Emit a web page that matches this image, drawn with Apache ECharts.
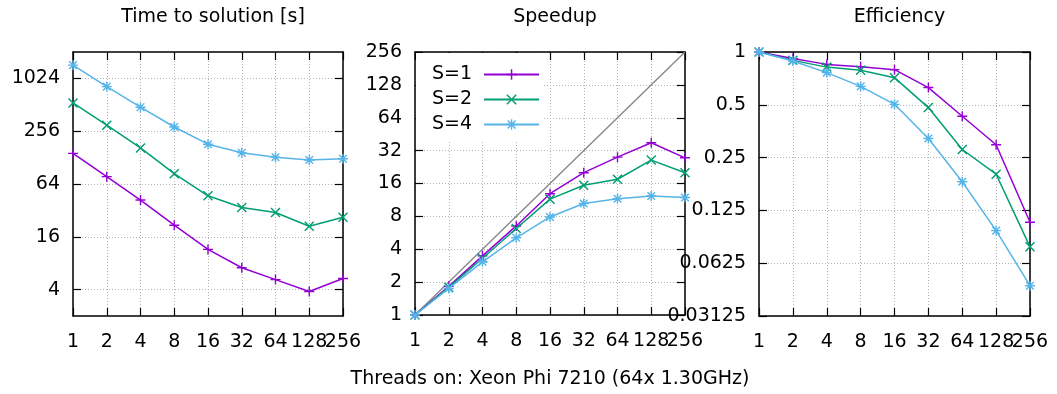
<!DOCTYPE html>
<html><head><meta charset="utf-8">
<script src="https://cdn.jsdelivr.net/npm/echarts@6/dist/echarts.min.js"></script>
<style>html,body{margin:0;padding:0;background:#fff}#c{width:1057px;height:394px}</style>
</head><body><div id="c"></div>
<script>
// ---- data ----
const threads = [1, 2, 4, 8, 16, 32, 64, 128, 256];
const seriesNames = ['S=1', 'S=2', 'S=4'];
const timeS1 = [143, 77.6, 42, 21.7, 11.5, 7.1, 5.2, 3.8, 5.35];
const timeS2 = [538, 300, 165, 84, 47, 34.6, 30.3, 21.1, 26.7];
const timeS4 = [1450, 826, 481, 286, 182, 145, 129, 120, 124];
const speedS1 = [1, 1.83, 3.48, 6.54, 12.9, 20.1, 27.9, 37.8, 27.5];
const speedS2 = [1, 1.79, 3.31, 6.19, 11.5, 15.4, 17.5, 26.2, 20.1];
const speedS4 = [1, 1.75, 3.07, 5.09, 7.9, 10.5, 11.6, 12.3, 11.9];
const effS1 = [1, 0.917, 0.85, 0.825, 0.793, 0.627, 0.43, 0.296, 0.107];
const effS2 = [1, 0.896, 0.82, 0.786, 0.714, 0.482, 0.278, 0.201, 0.0775];
const effS4 = [1, 0.889, 0.763, 0.637, 0.503, 0.321, 0.182, 0.0958, 0.0465];
const idealSpeedup = [1, 256];
const xTicks = [1, 2, 4, 8, 16, 32, 64, 128, 256];
const timeTicks = [4, 16, 64, 256, 1024];
const speedTicks = [1, 2, 4, 8, 16, 32, 64, 128, 256];
const effTicks = [0.03125, 0.0625, 0.125, 0.25, 0.5, 1];
const titles = ['Time to solution [s]', 'Speedup', 'Efficiency'];
const xName = 'Threads on: Xeon Phi 7210 (64x 1.30GHz)';

// ---- style ----
const colors = ['#9400d3', '#009e73', '#56b4e9'];
const FONT = 'DejaVu Sans';
const FS = 19;
function seg(x1, y1, x2, y2, w) {
  const dx = x2 - x1, dy = y2 - y1, L = Math.hypot(dx, dy);
  const nx = -dy / L * w / 2, ny = dx / L * w / 2;
  return 'M' + (x1 + nx) + ',' + (y1 + ny) + 'L' + (x2 + nx) + ',' + (y2 + ny) +
    'L' + (x2 - nx) + ',' + (y2 - ny) + 'L' + (x1 - nx) + ',' + (y1 - ny) + 'Z';
}
const W = 1.4;
const plusPath = seg(5, 0, 5, 10, W) + seg(0, 5, 10, 5, W);
const crossPath = seg(0.6, 0.6, 9.4, 9.4, W) + seg(0.6, 9.4, 9.4, 0.6, W);
const starPath = plusPath + seg(1.2, 1.2, 8.8, 8.8, W) + seg(1.2, 8.8, 8.8, 1.2, W);
const symbols = ['path://' + plusPath, 'path://' + crossPath, 'path://' + starPath];

const grids = [
  { left: 73, top: 52, width: 270, height: 264 },
  { left: 415, top: 52, width: 270, height: 264 },
  { left: 759, top: 52, width: 271, height: 264 }
];
const yRanges = [[2, 2048], [1, 256], [0.03125, 1]];
const yTickSets = [timeTicks, speedTicks, effTicks];
const labelFmt = v => String(+(+v).toPrecision(6));
const gridLine = { show: true, lineStyle: { color: '#b4b4b4', width: 1, type: [1, 2] } };
const axLine = { show: true, onZero: false, lineStyle: { color: '#000', width: 1.5 } };
const tickIn = { show: true, inside: true, length: 8, lineStyle: { color: '#000', width: 1.2 } };
const lbl = { color: '#000', fontFamily: FONT, fontSize: FS };
const xLabelMain = xTicks.slice(0, -1);
const xLabelLast = xTicks.slice(-1);

const xAxes = [], yAxes = [], series = [], titleArr = [];
const xAxisIdx = [];
for (let g = 0; g < 3; g++) {
  xAxisIdx.push(xAxes.length);
  xAxes.push({
    type: 'log', logBase: 2, gridIndex: g, min: 1, max: 256, position: 'bottom',
    axisLine: axLine, axisTick: Object.assign({ customValues: xTicks }, tickIn),
    axisLabel: Object.assign({ customValues: xLabelMain, margin: 17, formatter: labelFmt, hideOverlap: false,
      showMinLabel: true, showMaxLabel: true }, lbl),
    splitLine: gridLine,
    name: g === 1 ? xName : '', nameLocation: 'middle', nameGap: 55,
    nameTextStyle: lbl
  });
  // extra bottom axis carrying only the last label (so overlapping labels are both kept)
  xAxes.push({
    type: 'log', logBase: 2, gridIndex: g, min: 1, max: 256, position: 'bottom', offset: 0,
    axisLine: { show: false }, axisTick: { show: false }, splitLine: { show: false },
    axisLabel: Object.assign({ customValues: xLabelLast, margin: 17, formatter: labelFmt,
      showMinLabel: true, showMaxLabel: true }, lbl)
  });
  xAxes.push({
    type: 'log', logBase: 2, gridIndex: g, min: 1, max: 256, position: 'top',
    axisLine: axLine, axisTick: Object.assign({ customValues: xTicks }, tickIn),
    axisLabel: { show: false }, splitLine: { show: false }
  });
  yAxes.push({
    type: 'log', logBase: 2, gridIndex: g, min: yRanges[g][0], max: yRanges[g][1], position: 'left',
    axisLine: axLine, axisTick: Object.assign({ customValues: yTickSets[g] }, tickIn),
    axisLabel: Object.assign({ customValues: yTickSets[g], margin: 13, formatter: labelFmt, hideOverlap: false, showMinLabel: true, showMaxLabel: true }, lbl),
    splitLine: gridLine
  });
  yAxes.push({
    type: 'log', logBase: 2, gridIndex: g, min: yRanges[g][0], max: yRanges[g][1], position: 'right',
    axisLine: axLine, axisTick: Object.assign({ customValues: yTickSets[g] }, tickIn),
    axisLabel: { show: false }, splitLine: { show: false }
  });
  titleArr.push({
    text: titles[g], left: grids[g].left + grids[g].width / 2, top: 3, textAlign: 'center',
    textStyle: { color: '#000', fontFamily: FONT, fontSize: FS, fontWeight: 'normal' }
  });
}
const panelData = [[timeS1, timeS2, timeS4], [speedS1, speedS2, speedS4], [effS1, effS2, effS4]];
// ideal speedup diagonal
series.push({
  type: 'line', xAxisIndex: xAxisIdx[1], yAxisIndex: 2, symbol: 'none', silent: true,
  data: idealSpeedup.map(v => [v, v]),
  lineStyle: { color: '#888888', width: 1.4 }, z: 1
});
for (let g = 0; g < 3; g++) {
  for (let s = 0; s < 3; s++) {
    series.push({
      name: seriesNames[s], type: 'line', xAxisIndex: xAxisIdx[g], yAxisIndex: g * 2,
      data: threads.map((t, i) => [t, panelData[g][s][i]]),
      symbol: symbols[s], symbolSize: 10, showSymbol: true,
      lineStyle: { color: colors[s], width: 1.5 },
      itemStyle: { color: colors[s] },
      animation: false, z: 3 + s
    });
  }
}
const chart = echarts.init(document.getElementById('c'), null, { renderer: 'canvas' });
chart.setOption({
  animation: false,
  title: titleArr,
  grid: grids,
  xAxis: xAxes,
  yAxis: yAxes,
  legend: {
    data: seriesNames, orient: 'vertical', left: 416, top: 53,
    align: 'right', itemWidth: 55, itemHeight: 13, itemGap: 6,
    padding: [12, 2, 6, 16], backgroundColor: '#fff',
    textStyle: { color: '#000', fontFamily: FONT, fontSize: FS, padding: [0, 7, 0, 0] },
    selectedMode: false, z: 10
  },
  series: series
});
</script></body></html>
